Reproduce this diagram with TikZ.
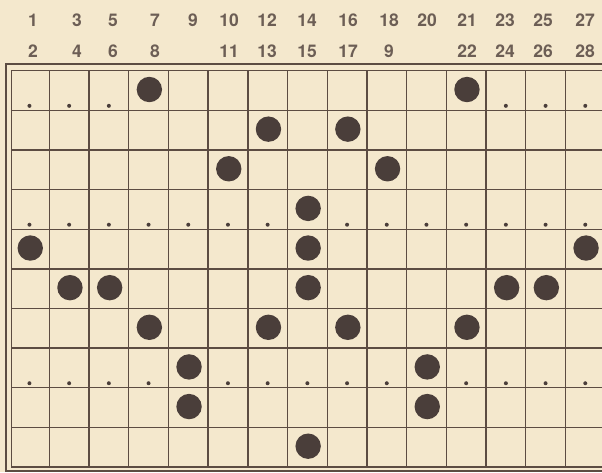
\documentclass[tikz,border=0pt]{standalone}
\usepackage{fontspec}
\setmainfont{TeX Gyre Heros}
\usepackage{xcolor}
\definecolor{paper}{RGB}{244,232,205}
\definecolor{ink}{RGB}{92,76,66}
\definecolor{pegbrown}{RGB}{74,62,58}

\begin{document}
\begin{tikzpicture}[x=1pt, y=-1pt,
    num/.style={font=\fontsize{17.5}{19}\selectfont\bfseries, text=ink!90, inner sep=0pt},
    gridline/.style={ink, line width=1.4pt}]
    \useasboundingbox (0,0) rectangle (602,472);
    \fill[paper] (0,0) rectangle (602,472);
    \clip (0,0) rectangle (602,472);

    % Column numbers
    \foreach \x/\n in {33/1,77/3,113/5,155/7,193/9,229/10,267/12,307/14,
                       348/16,389/18,427/20,467/21,505/23,543/25,585/27}
        \node[num] (top\n) at (\x,20.5) {\n};
    \foreach \x/\n/\m in {33/2/2,77/4/4,113/6/6,155/8/8,229/11/11,267/13/13,307/15/15,
                       348/17/17,389/9/9b,467/22/22,505/24/24,543/26/26,585/28/28}
        \node[num] (bot\m) at (\x,51) {\n};

    % Frame and grid
    \draw[gridline] (6,64) rectangle (620,471);
    \draw[gridline] (11.7,70.7) rectangle (615,467);
    \foreach \i in {1,...,14}
        \draw[gridline] ({9.6+39.7*\i},70.7) -- ({9.6+39.7*\i},467);
    \foreach \j in {1,...,9}
        \draw[gridline] (11.7,{70.7+39.63*\j}) -- (615,{70.7+39.63*\j});

    % Pegs
    \foreach \c/\r in {4/1,12/1, 7/2,9/2, 6/3,10/3, 8/4, 1/5,8/5,15/5,
                       2/6,3/6,8/6,13/6,14/6, 4/7,7/7,9/7,12/7,
                       5/8,11/8, 5/9,11/9, 8/10}
        \fill[pegbrown] ({9.6+39.7*(\c-0.5)+0.8},{70.7+39.63*(\r-0.5)-1}) circle (12.7pt);

    % Small holes
    \foreach \c/\r in {1/1,2/1,3/1,13/1,14/1,15/1,
                       1/4,2/4,3/4,4/4,5/4,6/4,7/4,9/4,10/4,11/4,12/4,13/4,14/4,15/4,
                       1/8,2/8,3/8,4/8,6/8,7/8,8/8,9/8,10/8,12/8,13/8,14/8,15/8}
        \fill[pegbrown] ({9.6+39.7*(\c-0.5)},{70.7+39.63*\r-4.5}) circle (2pt);
\end{tikzpicture}
\end{document}
